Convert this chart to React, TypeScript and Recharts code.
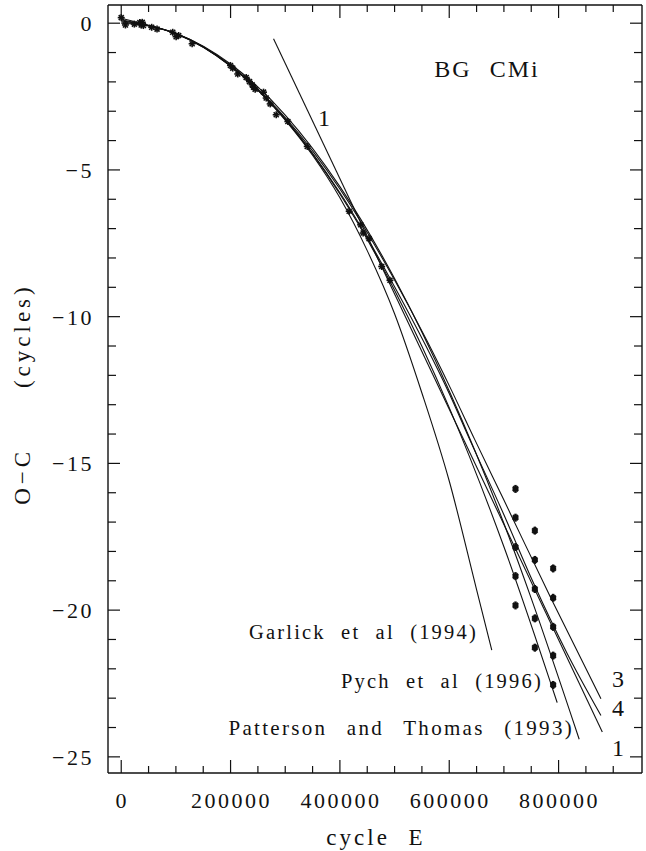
import { ComposedChart, Line, Scatter, XAxis, YAxis, Customized } from "recharts";

// axis ticks
const xMajorTicks = [0, 200000, 400000, 600000, 800000];
const xAllTicks = [0, 50000, 100000, 150000, 200000, 250000, 300000, 350000, 400000, 450000, 500000, 550000, 600000, 650000, 700000, 750000, 800000, 850000, 900000];
const yMajorTicks = [0, -5, -10, -15, -20, -25];
const yAllTicks = [0, -1, -2, -3, -4, -5, -6, -7, -8, -9, -10, -11, -12, -13, -14, -15, -16, -17, -18, -19, -20, -21, -22, -23, -24, -25];

// observed O-C (cycles) vs cycle E
const obsE = [0, 7700, 24000, 34000, 36500, 38500, 40500, 55700, 65500, 94200, 100400, 105000, 129700, 199800, 204000, 213200, 228600, 234600, 239500, 241900, 245000, 260300, 265200, 272500, 283500, 304800, 340300, 417000, 438000, 442500, 453300, 476400, 491600];
const obsOC = [0.19, -0.06, -0.03, 0.02, -0.06, 0.03, -0.08, -0.14, -0.2, -0.31, -0.46, -0.42, -0.7, -1.44, -1.53, -1.73, -1.85, -1.99, -2.1, -2.18, -2.25, -2.35, -2.55, -2.75, -3.12, -3.35, -4.2, -6.41, -6.87, -7.15, -7.34, -8.29, -8.76];

// recent timings, plotted with several cycle-count choices
const lateE = [721200, 721200, 721200, 721200, 721200, 756600, 756600, 756600, 756600, 756600, 790100, 790100, 790100, 790100, 790100];
const lateOC = [-15.87, -16.85, -17.85, -18.84, -19.84, -17.29, -18.29, -19.28, -20.28, -21.28, -18.58, -19.58, -20.57, -21.55, -22.55];

// ephemeris curves
const garlickE = [0, 50000, 100000, 200000, 300000, 350000, 400000, 450000, 500000, 550000, 600000, 650000, 677800];
const garlickOC = [0.17, -0.07, -0.34, -1.44, -3.3, -4.5, -5.95, -7.75, -9.9, -12.6, -15.6, -19.3, -21.36];
const pychE = [0, 50000, 100000, 200000, 300000, 400000, 500000, 600000, 700000, 797400];
const pychOC = [0.04, -0.09, -0.36, -1.46, -3.28, -5.82, -9.1, -13.1, -17.84, -23.15];
const pattersonE = [0, 50000, 100000, 200000, 300000, 400000, 500000, 600000, 700000, 750000, 837700];
const pattersonOC = [0.0, -0.09, -0.35, -1.39, -3.13, -5.57, -8.7, -12.53, -17.05, -19.6, -24.4];
const curve3E = [0, 50000, 100000, 200000, 300000, 400000, 500000, 560000, 600000, 646700, 700000, 787200, 877500];
const curve3OC = [0.08, -0.08, -0.35, -1.44, -3.22, -5.65, -8.75, -10.85, -12.35, -14.19, -16.25, -19.64, -23.02];
const curve4E = [0, 50000, 100000, 200000, 300000, 400000, 500000, 600000, 637500, 700000, 753500, 815000, 877500];
const curve4OC = [0.12, -0.08, -0.36, -1.46, -3.26, -5.78, -8.98, -12.62, -14.19, -16.75, -19.05, -21.45, -23.59];
const line1E = [278600, 880000];
const line1OC = [-0.53, -24.15];

const pts = (e: number[], oc: number[]) => e.map((v, i) => ({ E: v, y: oc[i] }));

const FONT = "'Liberation Serif', 'DejaVu Serif', serif";
const INK = "#111";

const fmt = (v: number) => (v < 0 ? "\u2212" + Math.abs(v) : String(v));

function BottomTick(props: any) {
  const { x, y, payload } = props;
  const major = xMajorTicks.includes(payload.value);
  return (
    <g>
      <line x1={x} x2={x} y1={y} y2={y - (major ? 13 : 7)} stroke={INK} strokeWidth={1.2} />
      {major && (
        <text x={x + 1} y={y + 35} textAnchor="middle" fontFamily={FONT} fontSize={22} letterSpacing={2.5} fill={INK}>
          {payload.value}
        </text>
      )}
    </g>
  );
}

function TopTick(props: any) {
  const { x, y, payload } = props;
  const major = xMajorTicks.includes(payload.value);
  return <line x1={x} x2={x} y1={y} y2={y + (major ? 13 : 7)} stroke={INK} strokeWidth={1.2} />;
}

function LeftTick(props: any) {
  const { x, y, payload } = props;
  const major = yMajorTicks.includes(payload.value);
  return (
    <g>
      <line x1={x} x2={x + (major ? 12 : 8)} y1={y} y2={y} stroke={INK} strokeWidth={1.2} />
      {major && (
        <text x={x - 14} y={y + 8} textAnchor="end" fontFamily={FONT} fontSize={22} letterSpacing={2.5} fill={INK}>
          {fmt(payload.value)}
        </text>
      )}
    </g>
  );
}

function RightTick(props: any) {
  const { x, y, payload } = props;
  const major = yMajorTicks.includes(payload.value);
  return <line x1={x} x2={x - (major ? 12 : 8)} y1={y} y2={y} stroke={INK} strokeWidth={1.2} />;
}

function Star(props: any) {
  const { cx, cy } = props;
  const r = 3.5;
  return (
    <g stroke={INK} strokeWidth={1.6}>
      <line x1={cx - r} x2={cx + r} y1={cy} y2={cy} />
      <line x1={cx} x2={cx} y1={cy - r} y2={cy + r} />
      <line x1={cx - 2.5} x2={cx + 2.5} y1={cy - 2.5} y2={cy + 2.5} />
      <line x1={cx - 2.5} x2={cx + 2.5} y1={cy + 2.5} y2={cy - 2.5} />
    </g>
  );
}

function BoldStar(props: any) {
  const { cx, cy } = props;
  return (
    <g stroke={INK} strokeWidth={2.4}>
      <line x1={cx} x2={cx} y1={cy - 4} y2={cy + 4} />
      <line x1={cx - 3} x2={cx + 3} y1={cy} y2={cy} />
      <line x1={cx - 2.5} x2={cx + 2.5} y1={cy - 2.5} y2={cy + 2.5} />
      <line x1={cx - 2.5} x2={cx + 2.5} y1={cy + 2.5} y2={cy - 2.5} />
    </g>
  );
}

function Annotations() {
  const t = { fontFamily: FONT, fill: INK };
  return (
    <g>
      <text x={30} y={394} transform="rotate(-90 30 394)" textAnchor="middle" fontSize={23} letterSpacing={4} wordSpacing={50} {...t}>
        O{"\u2212"}C (cycles)
      </text>
      <text x={376} y={845} textAnchor="middle" fontSize={23} letterSpacing={3} wordSpacing={10} {...t}>
        cycle E
      </text>
      <text x={487} y={77} textAnchor="middle" fontSize={24} letterSpacing={2} wordSpacing={10} {...t}>
        BG CMi
      </text>
      <text x={324} y={126} textAnchor="middle" fontSize={24} {...t}>1</text>
      <text x={618} y={687} textAnchor="middle" fontSize={24} {...t}>3</text>
      <text x={618} y={716} textAnchor="middle" fontSize={24} {...t}>4</text>
      <text x={618} y={756} textAnchor="middle" fontSize={24} {...t}>1</text>
      <text x={478} y={639} textAnchor="end" fontSize={20.5} letterSpacing={2.2} wordSpacing={8} {...t}>
        Garlick et al (1994)
      </text>
      <text x={543} y={688} textAnchor="end" fontSize={20.5} letterSpacing={2.2} wordSpacing={8} {...t}>
        Pych et al (1996)
      </text>
      <text x={574} y={735} textAnchor="end" fontSize={21} letterSpacing={2.3} wordSpacing={12} {...t}>
        Patterson and Thomas (1993)
      </text>
    </g>
  );
}

const curves = [
  { key: "garlick", data: pts(garlickE, garlickOC), type: "monotone" },
  { key: "pych", data: pts(pychE, pychOC), type: "monotone" },
  { key: "patterson", data: pts(pattersonE, pattersonOC), type: "monotone" },
  { key: "c3", data: pts(curve3E, curve3OC), type: "monotone" },
  { key: "c4", data: pts(curve4E, curve4OC), type: "monotone" },
  { key: "l1", data: pts(line1E, line1OC), type: "linear" },
];

export default function App() {
  const xDomain = [-24200, 952600];
  const yDomain = [-25.55, 0.62];
  const axisLine = { stroke: INK, strokeWidth: 1.4 };
  return (
    <div style={{ position: "absolute", left: 0, top: 0, background: "#fff" }}>
      <ComposedChart width={646} height={851} margin={{ top: 4, right: 3, bottom: 77, left: 107 }}>
        <XAxis xAxisId="b" type="number" dataKey="E" domain={xDomain} allowDataOverflow ticks={xAllTicks} interval={0}
          height={1} tickSize={0} tickMargin={0} tickLine={false} axisLine={axisLine} tick={BottomTick} />
        <XAxis xAxisId="t" orientation="top" type="number" dataKey="E" domain={xDomain} allowDataOverflow ticks={xAllTicks} interval={0}
          height={1} tickSize={0} tickMargin={0} tickLine={false} axisLine={axisLine} tick={TopTick} />
        <YAxis yAxisId="l" type="number" dataKey="y" domain={yDomain} allowDataOverflow ticks={yAllTicks} interval={0}
          width={1} tickSize={0} tickMargin={0} tickLine={false} axisLine={axisLine} tick={LeftTick} />
        <YAxis yAxisId="r" orientation="right" type="number" dataKey="y" domain={yDomain} allowDataOverflow ticks={yAllTicks} interval={0}
          width={1} tickSize={0} tickMargin={0} tickLine={false} axisLine={axisLine} tick={RightTick} />
        {curves.map((c) => (
          <Line key={c.key} xAxisId="b" yAxisId="l" data={c.data} dataKey="y" type={c.type as any} stroke={INK}
            strokeWidth={1.1} dot={false} activeDot={false} isAnimationActive={false} />
        ))}
        <Scatter xAxisId="b" yAxisId="l" data={pts(obsE, obsOC)} dataKey="y" shape={Star} isAnimationActive={false} />
        <Scatter xAxisId="b" yAxisId="l" data={pts(lateE, lateOC)} dataKey="y" shape={BoldStar} isAnimationActive={false} />
        <Customized component={Annotations} />
      </ComposedChart>
    </div>
  );
}
